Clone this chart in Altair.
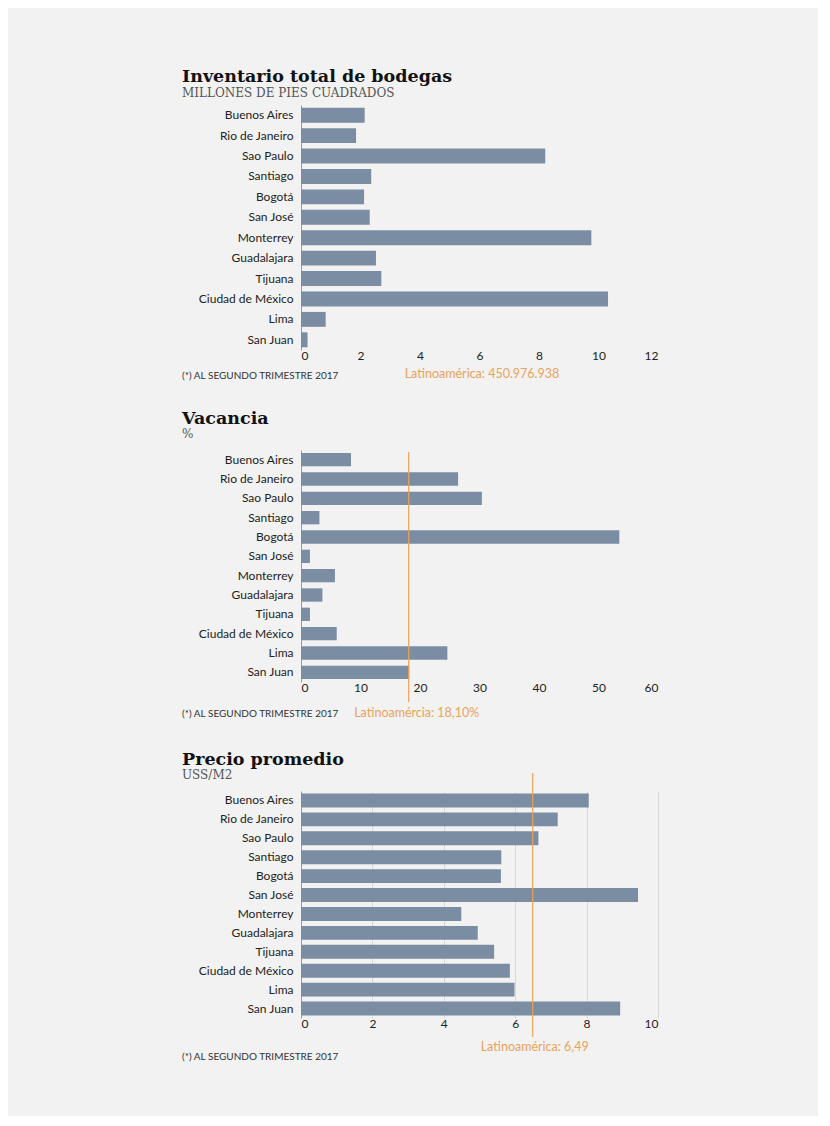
import altair as alt
import pandas as pd

cities = ["Buenos Aires", "Rio de Janeiro", "Sao Paulo", "Santiago", "Bogotá", "San José",
          "Monterrey", "Guadalajara", "Tijuana", "Ciudad de México", "Lima", "San Juan"]
inventario = [2.14, 1.85, 8.21, 2.36, 2.12, 2.31, 9.76, 2.52, 2.70, 10.32, 0.83, 0.22]
vacancia = [8.4, 26.4, 30.4, 3.1, 53.5, 1.5, 5.7, 3.6, 1.5, 6.0, 24.6, 18.2]
precio = [8.06, 7.19, 6.65, 5.61, 5.60, 9.44, 4.49, 4.95, 5.41, 5.85, 5.98, 8.94]
inv_ticks = [0, 2, 4, 6, 8, 10, 12]
vac_ticks = [0, 10, 20, 30, 40, 50, 60]
pre_ticks = [0, 2, 4, 6, 8, 10]
vac_ref = [18.1]
pre_ref = [6.49]
titles = ["Inventario total de bodegas", "Vacancia", "Precio promedio"]
subtitles = ["MILLONES DE PIES CUADRADOS", "%", "USS/M2"]
annots = ["Latinoamérica: 450.976.938", "Latinoamércia: 18,10%", "Latinoamérica: 6,49"]
footnote = "(*) AL SEGUNDO TRIMESTRE 2017"

BAR = "#7a8da2"
ORANGE = "#e9a25a"
SANS = "Lato"
SERIF = "DejaVu Serif"
W = 357


def one(text):
    return pd.DataFrame({"t": [text]})


def panel(values, ticks, xmax, idx, height, rng, pad, xoff, grid, foot_y,
          ref=None, annot_y=0, annot_dx=0, rule_y=0, rule_y2=0, annot_px=None):
    df = pd.DataFrame({"city": cities, "value": values})
    xscale = alt.Scale(domain=[0, xmax], nice=False)
    xaxis = alt.Axis(values=ticks, title=None, grid=grid, gridColor="#d8d8d8",
                     gridWidth=1, domain=False, ticks=False, labelPadding=0,
                     labelFont=SANS, labelFontSize=12, labelColor="#222",
                     offset=xoff, format="d")
    bars = alt.Chart(df).mark_bar(color=BAR).encode(
        x=alt.X("value:Q", scale=xscale, axis=xaxis),
        y=alt.Y("city:N", sort=cities,
                scale=alt.Scale(paddingInner=pad, paddingOuter=pad / 2, range=[0, rng]),
                axis=alt.Axis(title=None, ticks=False, domain=True, domainColor="#9a9a9a",
                              labelPadding=8, labelFont=SANS, labelFontSize=12,
                              labelColor="#222")),
    )
    layers = [bars]
    if ref is not None:
        refdf = pd.DataFrame({"value": ref, "t": [annots[idx]]})
        rule = alt.Chart(refdf).mark_rule(color=ORANGE, strokeWidth=1.2).encode(
            x=alt.X("value:Q", scale=xscale, axis=xaxis),
            y=alt.value(rule_y), y2=alt.value(rule_y2))
        ann = alt.Chart(refdf).mark_text(
            align="center", baseline="alphabetic", font=SANS, fontSize=12.5,
            color=ORANGE, dx=annot_dx).encode(
            x=alt.X("value:Q", scale=xscale, axis=xaxis),
            y=alt.value(annot_y), text="t:N")
        layers += [rule, ann]
    else:
        ann = alt.Chart(one(annots[idx])).mark_text(
            align="center", baseline="alphabetic", font=SANS, fontSize=12.5,
            color=ORANGE).encode(x=alt.value(annot_px), y=alt.value(annot_y), text="t:N")
        layers.append(ann)
    ttl = alt.Chart(one(titles[idx])).mark_text(
        align="left", baseline="alphabetic", font=SERIF, fontSize=17.5,
        fontWeight="bold", color="#111").encode(
        x=alt.value(-119), y=alt.value(-23 if idx == 0 else -26), text="t:N")
    sub = alt.Chart(one(subtitles[idx])).mark_text(
        align="left", baseline="alphabetic", font=SERIF, fontSize=12,
        color="#555").encode(
        x=alt.value(-119), y=alt.value(-8 if idx == 0 else -12), text="t:N")
    foot = alt.Chart(one(footnote)).mark_text(
        align="left", baseline="alphabetic", font=SANS, fontSize=10,
        color="#333").encode(x=alt.value(-119), y=alt.value(foot_y), text="t:N")
    layers += [ttl, sub, foot]
    return alt.layer(*layers).properties(width=W, height=height)


p1 = panel(inventario, inv_ticks, 12, 0, 245, 245, 0.27, 0, False, 274,
           annot_y=273, annot_px=181)
p2 = panel(vacancia, vac_ticks, 60, 1, 241, 232, 0.31, -9, False, 267,
           ref=vac_ref, annot_y=267, annot_dx=8, rule_y=2, rule_y2=252)
p3 = panel(precio, pre_ticks, 10, 2, 227, 227, 0.26, 0, True, 269,
           ref=pre_ref, annot_y=260, annot_dx=2, rule_y=-18, rule_y2=246)

chart = alt.vconcat(p1, p2, p3, spacing=100, bounds="flush").properties(
    padding={"left": 174, "top": 60, "right": 160, "bottom": 54},
    background="#f2f2f2",
).configure_view(stroke=None)

chart.save("out.html", embed_options={"renderer": "svg", "actions": False})
